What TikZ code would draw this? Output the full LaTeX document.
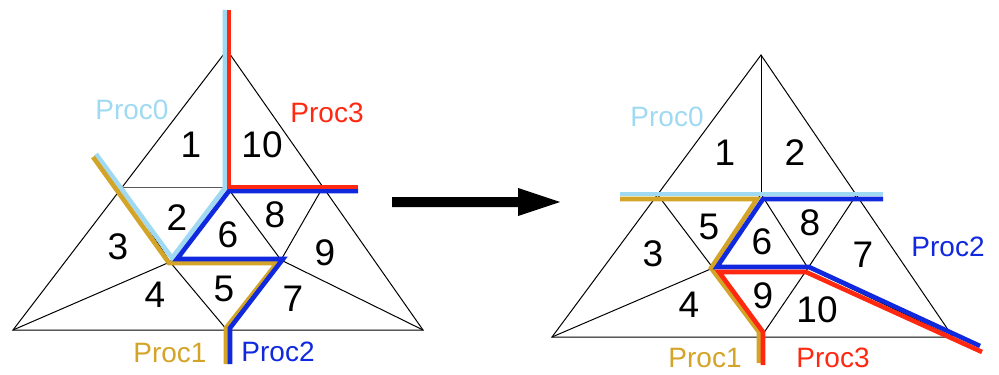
\documentclass[tikz,border=0pt]{standalone}
\usepackage{fontspec}
\setmainfont{Liberation Sans}
\definecolor{plb}{RGB}{160,218,242}
\definecolor{pgold}{RGB}{212,164,40}
\definecolor{pblue}{RGB}{16,40,222}
\definecolor{pred}{RGB}{255,40,16}
\tikzset{
  mesh/.style={line width=0.5pt, black},
  part/.style={line width=2.3pt, line join=miter},
  num/.style={inner sep=0pt, font=\fontsize{18.5}{20}\selectfont},
  proc/.style={inner sep=0pt, font=\fontsize{14}{16}\selectfont},
}
\begin{document}
\begin{tikzpicture}[x=0.5pt,y=-0.5pt]
\useasboundingbox (0,0) rectangle (999,374);
% ---------- left mesh ----------
\coordinate (A) at (227,50);
\coordinate (BL) at (13,330);
\coordinate (BR) at (423,330);
\coordinate (L) at (122,187);
\coordinate (M) at (227,187);
\coordinate (R) at (323,187);
\coordinate (P) at (170,262);
\coordinate (Q) at (281,260);
\coordinate (B) at (227,330);
\draw[mesh] (A) -- (BL) -- (BR) -- cycle;
\draw[mesh] (L) -- (M) -- (R);
\draw[mesh] (A) -- (M);
\draw[mesh] (L) -- (P) -- (M) -- (Q) -- (R);
\draw[mesh] (BL) -- (P) -- (B);
\draw[mesh] (P) -- (Q) -- (B);
\draw[mesh] (Q) -- (BR);
% colored partitions left
\coordinate (lb1) at (96,154);
\coordinate (lb2) at (172,258);
\coordinate (lb3) at (225,188);
\coordinate (lb4) at (225,10);
\draw[part, plb] (lb1) -- (lb2) -- (lb3) -- (lb4);
\coordinate (g1) at (93,157);
\coordinate (g2) at (169,263);
\coordinate (g3) at (277,263);
\coordinate (g4) at (226,328);
\coordinate (g5) at (226,364);
\draw[part, pgold] (g1) -- (g2) -- (g3) -- (g4) -- (g5);
\coordinate (b1) at (358,191);
\coordinate (b2) at (229,191);
\coordinate (b3) at (177,259);
\coordinate (b4) at (283,259);
\coordinate (b5) at (230,328);
\coordinate (b6) at (230,364);
\draw[part, pblue] (b1) -- (b2) -- (b3) -- (b4) -- (b5) -- (b6);
\coordinate (r1) at (229,10);
\coordinate (r2) at (229,187);
\coordinate (r3) at (358,187);
\draw[part, pred] (r1) -- (r2) -- (r3);
% labels left
\node[num] (n1) at (191,145) {1};
\node[num] (n10) at (262,145) {10};
\node[num] (n2) at (177,218) {2};
\node[num] (n6) at (228,235) {6};
\node[num] (n8) at (275,215) {8};
\node[num] (n3) at (118,247) {3};
\node[num] (n9) at (325,253) {9};
\node[num] (n5) at (224,289) {5};
\node[num] (n4) at (155,295) {4};
\node[num] (n7) at (293,299) {7};
\node[proc, text=plb] (p0) at (132,110) {Proc0};
\node[proc, text=pred] (p3) at (327,113) {Proc3};
\node[proc, text=pgold] (p1) at (170,353) {Proc1};
\node[proc, text=pblue] (p2) at (278,352) {Proc2};
% ---------- arrow ----------
\coordinate (ar1) at (392,197);
\coordinate (ar2) at (518,197);
\coordinate (ar3) at (518,188);
\coordinate (ar4) at (560,202);
\coordinate (ar5) at (518,216);
\coordinate (ar6) at (518,207);
\coordinate (ar7) at (392,207);
\fill[black] (ar1) -- (ar2) -- (ar3) -- (ar4) -- (ar5) -- (ar6) -- (ar7) -- cycle;
% ---------- right mesh ----------
\coordinate (A2) at (761,55);
\coordinate (BL2) at (552,337);
\coordinate (BR2) at (953,337);
\coordinate (L2) at (657,194);
\coordinate (M2) at (761,194);
\coordinate (R2) at (857,194);
\coordinate (P2) at (713,268);
\coordinate (Q2) at (808,268);
\coordinate (B2) at (761,337);
\draw[mesh] (A2) -- (BL2) -- (BR2) -- cycle;
\draw[mesh] (A2) -- (M2);
\draw[mesh] (L2) -- (R2);
\draw[mesh] (L2) -- (P2) -- (M2) -- (Q2) -- (R2);
\draw[mesh] (BL2) -- (P2) -- (B2);
\draw[mesh] (P2) -- (Q2) -- (B2);
\draw[mesh] (Q2) -- (BR2);
% colored partitions right
\coordinate (rlb1) at (620,194);
\coordinate (rlb2) at (883,194);
\draw[part, plb] (rlb1) -- (rlb2);
\coordinate (rg1) at (620,199);
\coordinate (rg2) at (757,199);
\coordinate (rg3) at (711,268);
\coordinate (rg4) at (759,332);
\coordinate (rg5) at (759,363);
\draw[part, pgold] (rg1) -- (rg2) -- (rg3) -- (rg4) -- (rg5);
\coordinate (rb1) at (883,199);
\coordinate (rb2) at (763,199);
\coordinate (rb3) at (717,267);
\coordinate (rb4) at (809,267);
\coordinate (rb5) at (980,346);
\draw[part, pblue] (rb1) -- (rb2) -- (rb3) -- (rb4) -- (rb5);
\coordinate (rr1) at (982,352);
\coordinate (rr2) at (806,272);
\coordinate (rr3) at (719,272);
\coordinate (rr4) at (763,332);
\coordinate (rr5) at (763,365);
\draw[part, pred] (rr1) -- (rr2) -- (rr3) -- (rr4) -- (rr5);
% labels right
\node[num] (m1) at (725,153) {1};
\node[num] (m2) at (795,153) {2};
\node[num] (m5) at (709,227) {5};
\node[num] (m3) at (653,254) {3};
\node[num] (m6) at (762,242) {6};
\node[num] (m8) at (810,223) {8};
\node[num] (m7) at (863,255) {7};
\node[num] (m9) at (763,296) {9};
\node[num] (m4) at (689,305) {4};
\node[num] (m10) at (817,310) {10};
\node[proc, text=plb] (q0) at (667,117) {Proc0};
\node[proc, text=pblue] (q2) at (948,247) {Proc2};
\node[proc, text=pgold] (q1) at (705,358) {Proc1};
\node[proc, text=pred] (q3) at (833,358) {Proc3};
\end{tikzpicture}
\end{document}
